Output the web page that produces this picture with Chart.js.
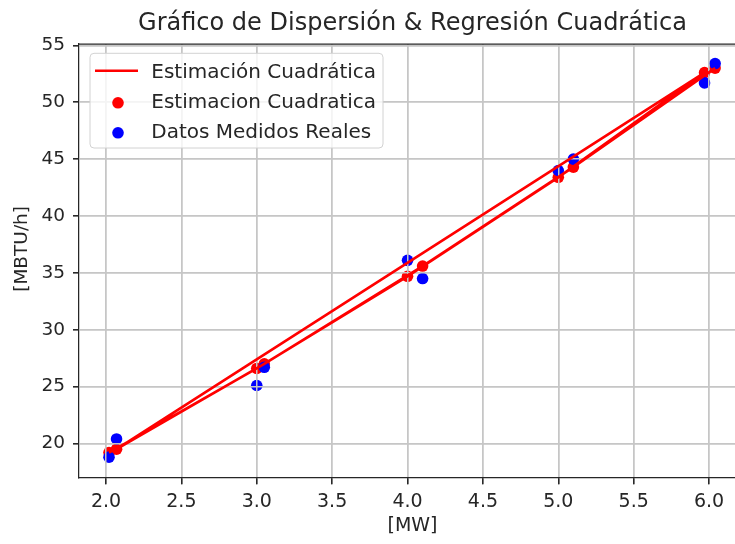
<!DOCTYPE html>
<html>
<head>
<meta charset="utf-8">
<script src="https://cdn.jsdelivr.net/npm/chart.js@4.4.1/dist/chart.umd.min.js"></script>
<style>
  html, body { margin: 0; padding: 0; background: #ffffff; }
  #frame { width: 735px; height: 544px; overflow: hidden; position: relative; }
  canvas { display: block; }
</style>
</head>
<body>
<div id="frame"><canvas id="c" width="760" height="544"></canvas></div>
<script>
// Potencia eléctrica [MW] en el orden de registro
const mw = [2.02, 3.00, 4.00, 5.00, 5.97, 2.07, 3.05, 4.10, 5.10, 6.04];
// Consumo de calor medido [MBTU/h]
const medidos = [18.8, 25.1, 36.1, 44.0, 51.7, 20.4, 26.7, 34.5, 45.0, 53.4];
// Consumo estimado por la regresión cuadrática [MBTU/h]
const estimados = [19.2, 26.6, 34.7, 43.4, 52.6, 19.5, 27.0, 35.6, 44.3, 53.0];

const xTicks = [2.0, 2.5, 3.0, 3.5, 4.0, 4.5, 5.0, 5.5, 6.0];
const yTicks = [20, 25, 30, 35, 40, 45, 50, 55];

const xMin = 1.821, xMax = 6.245;
const yMin = 17.03, yMax = 55.12;

const ink = '#262626';
const gridGray = '#c6c6c6';
const tickFont = 19;
const legendFont = 20;
Chart.defaults.font.family = "'DejaVu Sans', sans-serif";
Chart.defaults.color = ink;

const pairs = (xs, ys) => xs.map((x, i) => ({ x: x, y: ys[i] }));

// Grid lines sit above the scatter markers but below the fitted line
const gridOverMarkers = {
  id: 'gridOverMarkers',
  afterDatasetDraw(chart, args) {
    if (args.index !== 2) return;
    chart.scales.y.drawGrid(chart.chartArea);
    chart.scales.x.drawGrid(chart.chartArea);
  }
};

// Top and right edges of the plot box
const axesFrame = {
  id: 'axesFrame',
  afterDraw(chart) {
    const { ctx, chartArea: a } = chart;
    ctx.save();
    ctx.strokeStyle = ink;
    ctx.lineWidth = 1.25;
    ctx.beginPath();
    ctx.moveTo(a.left, a.top);
    ctx.lineTo(a.right, a.top);
    ctx.lineTo(a.right, a.bottom);
    ctx.stroke();
    ctx.restore();
  }
};

// Legend box drawn in the upper-left corner of the plot area
const insetLegend = {
  id: 'insetLegend',
  afterDraw(chart) {
    const { ctx, chartArea: a } = chart;
    const fs = legendFont;
    const x0 = a.left + 11, y0 = a.top + 9.3, w = 293, h = 94.7, r = 4;
    ctx.save();
    ctx.beginPath();
    ctx.moveTo(x0 + r, y0);
    ctx.arcTo(x0 + w, y0, x0 + w, y0 + h, r);
    ctx.arcTo(x0 + w, y0 + h, x0, y0 + h, r);
    ctx.arcTo(x0, y0 + h, x0, y0, r);
    ctx.arcTo(x0, y0, x0 + w, y0, r);
    ctx.closePath();
    ctx.fillStyle = 'rgba(255,255,255,0.8)';
    ctx.fill();
    ctx.strokeStyle = '#d2d2d2';
    ctx.lineWidth = 1;
    ctx.stroke();

    ctx.font = fs + "px 'DejaVu Sans', sans-serif";
    ctx.textBaseline = 'alphabetic';
    ctx.textAlign = 'left';
    chart.data.datasets.forEach((ds, i) => {
      const cy = y0 + 17.5 + i * 30;
      if (ds.showLine) {
        ctx.strokeStyle = ds.borderColor;
        ctx.lineWidth = ds.borderWidth;
        ctx.beginPath();
        ctx.moveTo(x0 + 5, cy);
        ctx.lineTo(x0 + 48, cy);
        ctx.stroke();
      } else {
        ctx.fillStyle = ds.backgroundColor;
        ctx.beginPath();
        ctx.arc(x0 + 28, cy + 2, ds.pointRadius, 0, Math.PI * 2);
        ctx.fill();
      }
      ctx.fillStyle = ink;
      ctx.fillText(ds.label, x0 + 61.3, cy + 0.3645 * fs);
    });
    ctx.restore();
  }
};

new Chart(document.getElementById('c'), {
  type: 'scatter',
  data: {
    datasets: [
      {
        label: 'Estimación Cuadrática',
        data: pairs(mw, estimados),
        showLine: true,
        borderColor: '#ff0000',
        borderWidth: 2.6,
        pointRadius: 0,
        pointHoverRadius: 0,
        tension: 0,
        fill: false,
        order: 0
      },
      {
        label: 'Estimacion Cuadratica',
        data: pairs(mw, estimados),
        backgroundColor: '#ff0000',
        borderWidth: 0,
        pointRadius: 5.8,
        pointHoverRadius: 5.8,
        order: 2
      },
      {
        label: 'Datos Medidos Reales',
        data: pairs(mw, medidos),
        backgroundColor: '#0000ff',
        borderWidth: 0,
        pointRadius: 5.8,
        pointHoverRadius: 5.8,
        order: 1
      }
    ]
  },
  options: {
    responsive: false,
    animation: false,
    devicePixelRatio: 1,
    layout: { padding: { left: 0, right: 14, top: 0, bottom: 0 } },
    plugins: {
      legend: { display: false },
      tooltip: { enabled: false },
      title: {
        display: true,
        fullSize: false,
        text: 'Gráfico de Dispersión & Regresión Cuadrática',
        color: ink,
        font: { size: 24, weight: 'normal' },
        padding: { top: 8.9, bottom: 6.3 }
      }
    },
    scales: {
      x: {
        type: 'linear',
        min: xMin,
        max: xMax,
        afterBuildTicks: s => { s.ticks = xTicks.map(v => ({ value: v })); },
        afterFit: s => { s.height = 66.7; },
        ticks: {
          font: { size: tickFont },
          color: ink,
          padding: 6,
          maxRotation: 0,
          autoSkip: false,
          callback: v => Number(v).toFixed(1)
        },
        grid: { color: gridGray, lineWidth: 1.5, tickLength: 7, tickColor: ink, tickWidth: 1.25 },
        border: { display: true, color: ink, width: 1.25 },
        title: { display: true, text: '[MW]', color: ink, font: { size: tickFont }, padding: { top: 0, bottom: 6.6 } }
      },
      y: {
        type: 'linear',
        min: yMin,
        max: yMax,
        afterBuildTicks: s => { s.ticks = yTicks.map(v => ({ value: v })); },
        afterFit: s => { s.width = 79; },
        ticks: { font: { size: 18.5 }, color: ink, padding: 8, autoSkip: false },
        grid: { color: gridGray, lineWidth: 1.5, tickLength: 6, tickColor: ink, tickWidth: 1.25 },
        border: { display: true, color: ink, width: 1.25 },
        title: { display: true, text: '    [MBTU/h]', color: ink, font: { size: 18.5 }, padding: { top: 11.4, bottom: 0 } }
      }
    }
  },
  plugins: [gridOverMarkers, axesFrame, insetLegend]
});
</script>
</body>
</html>
